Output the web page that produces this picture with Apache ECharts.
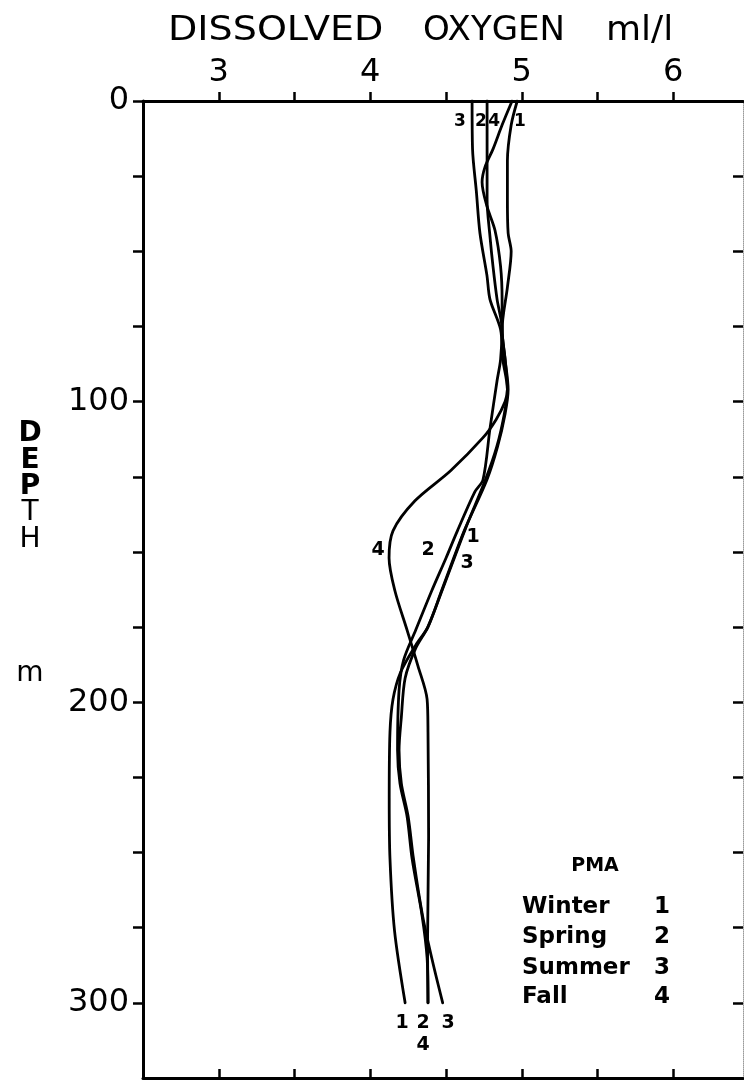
<!DOCTYPE html>
<html>
<head>
<meta charset="utf-8">
<script src="https://cdn.jsdelivr.net/npm/echarts@6/dist/echarts.min.js"></script>
<style>
  html, body { margin: 0; padding: 0; background: #fff; }
  #chart { width: 744px; height: 1082px; }
</style>
</head>
<body>
<div id="chart"></div>
<script>
// Seasonal dissolved-oxygen profiles, station PMA.
const seasons = ['Winter', 'Spring', 'Summer', 'Fall'];
const seasonIds = ['1', '2', '3', '4'];

// Axis ticks and labels
const oxygenTicks = [3, 3.5, 4, 4.5, 5, 5.5, 6];
const oxygenLabels = [3, 4, 5, 6];
const depthTicks = [0, 25, 50, 75, 100, 125, 150, 175, 200, 225, 250, 275, 300];
const depthLabels = [0, 100, 200, 300];

// Profiles: [dissolved oxygen (ml/l), depth (m)]
const winter = [
  [4.97, 0], [4.93, 8], [4.905, 20], [4.905, 33], [4.91, 44], [4.93, 50],
  [4.905, 62], [4.87, 76], [4.89, 86], [4.91, 96], [4.89, 104], [4.84, 115],
  [4.77, 126], [4.62, 143], [4.47, 163], [4.38, 175], [4.30, 181], [4.20, 190],
  [4.15, 199], [4.13, 210], [4.125, 232], [4.13, 252], [4.16, 276], [4.23, 300]
];
const spring = [
  [4.771, 0], [4.771, 16], [4.771, 33], [4.79, 45], [4.81, 55], [4.837, 66],
  [4.87, 76], [4.86, 86], [4.837, 93], [4.79, 109], [4.744, 126], [4.69, 130],
  [4.575, 143], [4.50, 152], [4.405, 163], [4.30, 176], [4.22, 186], [4.19, 196],
  [4.18, 216], [4.196, 227], [4.243, 238], [4.276, 252], [4.342, 271], [4.375, 285],
  [4.381, 300]
];
const summer = [
  [4.672, 0], [4.675, 16], [4.70, 30], [4.724, 44], [4.77, 58], [4.79, 66],
  [4.86, 76], [4.875, 86], [4.905, 96], [4.885, 104], [4.835, 115], [4.76, 126],
  [4.63, 142], [4.48, 162], [4.38, 175], [4.30, 182], [4.23, 192], [4.205, 205],
  [4.19, 216], [4.205, 227], [4.25, 238], [4.285, 252], [4.345, 271], [4.41, 286],
  [4.478, 300]
];
const fall = [
  [4.936, 0], [4.87, 8], [4.81, 16], [4.757, 22], [4.738, 27], [4.77, 35],
  [4.823, 43], [4.86, 55], [4.87, 66], [4.87, 76], [4.89, 86], [4.905, 96],
  [4.89, 100], [4.83, 106], [4.744, 112], [4.53, 123], [4.295, 133], [4.15, 143],
  [4.124, 152], [4.163, 163], [4.243, 176], [4.315, 188], [4.375, 199], [4.381, 210],
  [4.385, 245], [4.378, 280], [4.381, 300]
];
const profiles = [winter, spring, summer, fall];

// Curve tags: [oxygen, depth] anchors for the season numbers (top, middle, bottom)
const tagAnchors = [
  [[4.988, 7], [4.678, 145], [4.21, 306.7]],
  [[4.731, 7], [4.381, 149.4], [4.348, 306.7]],
  [[4.592, 7], [4.639, 153.7], [4.513, 306.7]],
  [[4.817, 7], [4.051, 149.4], [4.348, 314]]
];
const tagSizes = [17, 19, 19];

const FONT = 'DejaVu Sans';
const INK = '#000';

const chart = echarts.init(document.getElementById('chart'), null, { renderer: 'canvas' });

function oxygenAxis(position, showLabels, tickInside) {
  return {
    type: 'value',
    position: position,
    min: 2.5,
    max: 6.46,
    axisLine: { show: true, onZero: false, lineStyle: { color: INK, width: 3 } },
    axisTick: {
      show: true, inside: tickInside, length: 9,
      customValues: oxygenTicks,
      lineStyle: { color: INK, width: 2.5 }
    },
    axisLabel: {
      show: showLabels,
      customValues: oxygenLabels,
      fontFamily: FONT, fontSize: 32, color: INK, margin: 12
    },
    splitLine: { show: false }
  };
}

function depthAxis(position, showLabels, tickInside, lineStyle) {
  return {
    type: 'value',
    position: position,
    inverse: true,
    min: 0,
    max: 325,
    axisLine: { show: true, onZero: false, lineStyle: lineStyle },
    axisTick: {
      show: true, inside: tickInside, length: 10,
      customValues: depthTicks,
      lineStyle: { color: INK, width: 2.5 }
    },
    axisLabel: {
      show: showLabels,
      customValues: depthLabels,
      fontFamily: FONT, fontSize: 32, color: INK, margin: 14
    },
    splitLine: { show: false }
  };
}

const series = profiles.map((data, i) => ({
  name: seasons[i],
  type: 'line',
  xAxisIndex: 0,
  yAxisIndex: 0,
  data: data,
  showSymbol: false,
  smooth: 0.3,
  lineStyle: { color: INK, width: 2.8, cap: 'round', join: 'round' },
  silent: true,
  animation: false,
  markPoint: {
    symbol: 'circle',
    symbolSize: 1,
    itemStyle: { color: 'rgba(0,0,0,0)' },
    label: {
      show: true, position: 'inside', formatter: seasonIds[i],
      fontFamily: FONT, fontWeight: 'bold', color: INK
    },
    data: tagAnchors[i].map((c, k) => ({ coord: c, label: { fontSize: tagSizes[k] } }))
  }
}));

// Axis titles and the season key
const graphics = [];
const titleWords = [
  { t: 'DISSOLVED', x: 168, sx: 1.12 },
  { t: 'OXYGEN', x: 423, sx: 1 },
  { t: 'ml/l', x: 606, sx: 1.06 }
];
titleWords.forEach(w => graphics.push({
  type: 'text', x: w.x, y: 31, scaleX: w.sx,
  style: { text: w.t, font: 'normal 34px "' + FONT + '"', fill: INK, align: 'left', verticalAlign: 'middle' }
}));

const depthLetters = [
  { t: 'D', y: 434, w: 'bold' }, { t: 'E', y: 461, w: 'bold' }, { t: 'P', y: 487, w: 'bold' },
  { t: 'T', y: 513, w: 'normal' }, { t: 'H', y: 540, w: 'normal' }, { t: 'm', y: 674, w: 'normal' }
];
depthLetters.forEach(l => graphics.push({
  type: 'text', x: 30, y: l.y,
  style: { text: l.t, font: l.w + ' 28px "' + FONT + '"', fill: INK, align: 'center', verticalAlign: 'middle' }
}));

graphics.push({
  type: 'text', x: 595, y: 866,
  style: { text: 'PMA', font: 'bold 19px "' + FONT + '"', fill: INK, align: 'center', verticalAlign: 'middle' }
});
const keyRows = [907, 937, 968, 997];
seasons.forEach((s, i) => {
  graphics.push({
    type: 'text', x: 522, y: keyRows[i],
    style: { text: s, font: 'bold 23px "' + FONT + '"', fill: INK, align: 'left', verticalAlign: 'middle' }
  });
  graphics.push({
    type: 'text', x: 662, y: keyRows[i],
    style: { text: seasonIds[i], font: 'bold 23px "' + FONT + '"', fill: INK, align: 'center', verticalAlign: 'middle' }
  });
});

chart.setOption({
  animation: false,
  backgroundColor: '#fff',
  grid: { left: 143, right: 1, top: 101, bottom: 4 },
  xAxis: [oxygenAxis('top', true, false), oxygenAxis('bottom', false, true)],
  yAxis: [
    depthAxis('left', true, false, { color: INK, width: 3 }),
    depthAxis('right', false, true, { color: '#9a9a9a', width: 1, type: 'dotted' })
  ],
  series: series,
  graphic: graphics
});
</script>
</body>
</html>
